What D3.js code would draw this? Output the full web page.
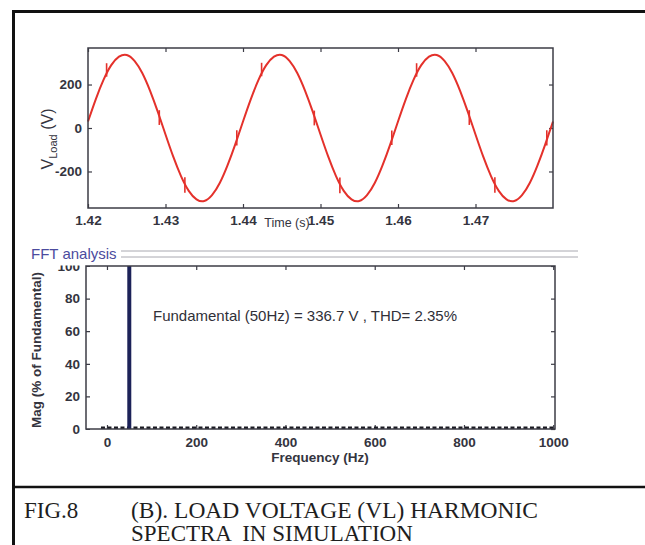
<!DOCTYPE html>
<html>
<head>
<meta charset="utf-8">
<script src="https://cdn.jsdelivr.net/npm/d3@7"></script>
<style>
  body { margin: 0; background: #fff; }
  text { font-family: Arial, "Liberation Sans", sans-serif; }
</style>
</head>
<body>
<svg id="fig" width="645" height="545"></svg>
<script>
// ---- data ----
const timeTicks = [1.42, 1.43, 1.44, 1.45, 1.46, 1.47]
const voltTicks = [-200, 0, 200]
const freqTicks = [0, 200, 400, 600, 800, 1000]
const magTicks = [0, 20, 40, 60, 80, 100]

// load voltage, one reading per millisecond
const sampleTime = [
  1.420, 1.421, 1.422, 1.423, 1.424, 1.425, 1.426, 1.427, 1.428, 1.429,
  1.430, 1.431, 1.432, 1.433, 1.434, 1.435, 1.436, 1.437, 1.438, 1.439,
  1.440, 1.441, 1.442, 1.443, 1.444, 1.445, 1.446, 1.447, 1.448, 1.449,
  1.450, 1.451, 1.452, 1.453, 1.454, 1.455, 1.456, 1.457, 1.458, 1.459,
  1.460, 1.461, 1.462, 1.463, 1.464, 1.465, 1.466, 1.467, 1.468, 1.469,
  1.470, 1.471, 1.472, 1.473, 1.474, 1.475, 1.476, 1.477, 1.478, 1.479, 1.480]
const sampleVolt = [
  30, 132, 221, 289, 328, 336, 309, 253, 172, 75,
  -30, -132, -221, -289, -328, -336, -309, -253, -172, -75,
  30, 132, 221, 289, 328, 336, 309, 253, 172, 75,
  -30, -132, -221, -289, -328, -336, -309, -253, -172, -75,
  30, 132, 221, 289, 328, 336, 309, 253, 172, 75,
  -30, -132, -221, -289, -328, -336, -309, -253, -172, -75, 30]

// switching spikes: [time, low, high]
const spikes = [
  [1.4224, 236, 298], [1.4292, 14, 82], [1.4325, -298, -226], [1.4392, -80, -10],
  [1.4424, 238, 300], [1.4492, 12, 80], [1.4525, -300, -228], [1.4592, -78, -12],
  [1.4624, 236, 298], [1.4692, 14, 82], [1.4725, -298, -226], [1.4792, -80, -10]]

// FFT spectrum
const fundamentalHz = [50]
const fundamentalMag = [100]
const harmonicSpan = [0, 1000]   // tiny harmonics lying along the floor
const harmonicMag = 0.8

const figLabel = "FIG.8"
const caption1 = "(B). LOAD VOLTAGE (VL) HARMONIC"
const caption2 = "SPECTRA  IN SIMULATION"
const fftText = "Fundamental (50Hz) = 336.7 V , THD= 2.35%"

// ---- drawing ----
var svg = d3.select("#fig")
svg.append("rect").attr("width", 645).attr("height", 545).attr("fill", "#fff")

var axisColour = "#3c3c46"
var labelColour = "#34343e"
var wave = "#e4312b"
var plain = function(d) { return String(d) }

function styleAxis(g) {
  g.select(".domain").remove()
  g.selectAll(".tick line").attr("stroke", axisColour).attr("stroke-width", 1.2)
  g.selectAll(".tick text")
    .attr("fill", labelColour)
    .style("font-size", "13.5px")
    .style("font-weight", "bold")
}

// top plot: voltage vs time
var x1 = d3.scaleLinear().domain([1.42, 1.48]).range([88, 553])
var y1 = d3.scaleLinear().domain([-368, 368]).range([208, 48])

var timePlot = svg.append("g")

var tf = d3.format(".2f")
timePlot.append("g").attr("transform", "translate(0,208)")
  .call(d3.axisBottom(x1).tickValues(timeTicks).tickFormat(tf).tickSizeInner(-4).tickSizeOuter(0).tickPadding(7))
  .call(styleAxis)
timePlot.append("g").attr("transform", "translate(0,48)")
  .call(d3.axisTop(x1).tickValues(timeTicks).tickFormat("").tickSizeInner(-4).tickSizeOuter(0))
  .call(styleAxis)
timePlot.append("g").attr("transform", "translate(88,0)")
  .call(d3.axisLeft(y1).tickValues(voltTicks).tickFormat(plain).tickSizeInner(-4).tickSizeOuter(0).tickPadding(6))
  .call(styleAxis)
timePlot.append("g").attr("transform", "translate(553,0)")
  .call(d3.axisRight(y1).tickValues(voltTicks).tickFormat("").tickSizeInner(-4).tickSizeOuter(0))
  .call(styleAxis)

var samples = sampleTime.map(function(t, i) { return { t: t, v: sampleVolt[i] } })
var line = d3.line()
  .x(function(d) { return x1(d.t) })
  .y(function(d) { return y1(d.v) })
  .curve(d3.curveNatural)

timePlot.append("path").datum(samples)
  .attr("fill", "none").attr("stroke", wave).attr("stroke-width", 2)
  .attr("d", line)

timePlot.selectAll(".spike").data(spikes).enter().append("line")
  .attr("class", "spike")
  .attr("x1", function(d) { return x1(d[0]) })
  .attr("x2", function(d) { return x1(d[0]) })
  .attr("y1", function(d) { return y1(d[1]) })
  .attr("y2", function(d) { return y1(d[2]) })
  .attr("stroke", wave).attr("stroke-width", 1.6)

timePlot.append("rect")
  .attr("x", 88).attr("y", 48).attr("width", 553 - 88).attr("height", 208 - 48)
  .attr("fill", "none").attr("stroke", axisColour).attr("stroke-width", 1.5)

// y label with subscript
var vl = timePlot.append("text")
  .attr("transform", "translate(53,139) rotate(-90)")
  .attr("text-anchor", "middle")
  .attr("fill", labelColour)
  .style("font-size", "16px")
vl.append("tspan").text("V")
vl.append("tspan").attr("dy", 4).style("font-size", "11px").text("Load")
vl.append("tspan").attr("dy", -4).text(" (V)")

timePlot.append("text")
  .attr("x", 287).attr("y", 227)
  .attr("text-anchor", "middle")
  .attr("fill", labelColour)
  .style("font-size", "12.5px")
  .text("Time (s)")

// FFT panel title
svg.append("line").attr("x1", 121).attr("x2", 578).attr("y1", 251).attr("y2", 251)
  .attr("stroke", "#a8a8b0").attr("stroke-width", 1)
svg.append("line").attr("x1", 121).attr("x2", 578).attr("y1", 257).attr("y2", 257)
  .attr("stroke", "#a8a8b0").attr("stroke-width", 1)

// bottom plot: spectrum
var x2 = d3.scaleLinear().domain([-47, 1004]).range([86, 555])
var y2 = d3.scaleLinear().domain([0, 100]).range([429, 266])

var fftPlot = svg.append("g")

// the "100" label is half hidden under the panel title
fftPlot.append("defs").append("clipPath").attr("id", "labelclip")
  .append("rect").attr("x", -100).attr("y", 265.5).attr("width", 200).attr("height", 300)

fftPlot.append("g").attr("transform", "translate(0,429)")
  .call(d3.axisBottom(x2).tickValues(freqTicks).tickFormat(plain).tickSizeInner(-4).tickSizeOuter(0).tickPadding(8))
  .call(styleAxis)
fftPlot.append("g").attr("transform", "translate(0,266)")
  .call(d3.axisTop(x2).tickValues(freqTicks).tickFormat("").tickSizeInner(-4).tickSizeOuter(0))
  .call(styleAxis)
fftPlot.append("g").attr("transform", "translate(86,0)")
  .attr("clip-path", "url(#labelclip)")
  .call(d3.axisLeft(y2).tickValues(magTicks).tickFormat(plain).tickSizeInner(-4).tickSizeOuter(0).tickPadding(6))
  .call(styleAxis)
fftPlot.append("g").attr("transform", "translate(555,0)")
  .call(d3.axisRight(y2).tickValues(magTicks).tickFormat("").tickSizeInner(-4).tickSizeOuter(0))
  .call(styleAxis)

// harmonics along the floor
fftPlot.append("line")
  .attr("x1", x2(harmonicSpan[0]) - 6).attr("x2", x2(harmonicSpan[1]))
  .attr("y1", y2(harmonicMag)).attr("y2", y2(harmonicMag))
  .attr("stroke", "#1a1a22").attr("stroke-width", 2.5)
  .attr("stroke-dasharray", "4,2.5")

fftPlot.selectAll(".bar").data(fundamentalHz).enter().append("rect")
  .attr("class", "bar")
  .attr("x", function(d) { return x2(d) - 2 })
  .attr("width", 4)
  .attr("y", function(d, i) { return y2(fundamentalMag[i]) })
  .attr("height", function(d, i) { return y2(0) - y2(fundamentalMag[i]) })
  .attr("fill", "#1c2258")

fftPlot.append("rect")
  .attr("x", 86).attr("y", 266).attr("width", 555 - 86).attr("height", 429 - 266)
  .attr("fill", "none").attr("stroke", axisColour).attr("stroke-width", 1.5)

fftPlot.append("text")
  .attr("x", 153).attr("y", 321)
  .attr("fill", "#303038")
  .style("font-size", "15px")
  .text(fftText)

fftPlot.append("text")
  .attr("transform", "translate(41,350) rotate(-90)")
  .attr("text-anchor", "middle")
  .attr("fill", labelColour)
  .style("font-size", "13.5px").style("font-weight", "bold")
  .text("Mag (% of Fundamental)")

fftPlot.append("text")
  .attr("x", 320).attr("y", 462)
  .attr("text-anchor", "middle")
  .attr("fill", labelColour)
  .style("font-size", "13.5px").style("font-weight", "bold")
  .text("Frequency (Hz)")

svg.append("text")
  .attr("x", 31).attr("y", 259)
  .attr("fill", "#4b4b9e")
  .style("font-size", "15px")
  .text("FFT analysis")

// outer frame and caption
svg.append("line").attr("x1", 12).attr("x2", 645).attr("y1", 11.5).attr("y2", 11.5)
  .attr("stroke", "#111").attr("stroke-width", 3)
svg.append("line").attr("x1", 13.5).attr("x2", 13.5).attr("y1", 10).attr("y2", 545)
  .attr("stroke", "#111").attr("stroke-width", 3)
svg.append("line").attr("x1", 12).attr("x2", 645).attr("y1", 487).attr("y2", 487)
  .attr("stroke", "#111").attr("stroke-width", 2.5)

var serif = "'Liberation Serif', 'Times New Roman', serif"
svg.append("text")
  .attr("x", 24).attr("y", 518)
  .attr("fill", "#1e1e1e")
  .style("font-family", serif).style("font-size", "23px")
  .text(figLabel)
svg.append("text")
  .attr("x", 131).attr("y", 518)
  .attr("fill", "#1e1e1e")
  .style("font-family", serif).style("font-size", "23px")
  .attr("textLength", 407).attr("lengthAdjust", "spacingAndGlyphs")
  .text(caption1)
svg.append("text")
  .attr("x", 131).attr("y", 541)
  .attr("fill", "#1e1e1e")
  .style("font-family", serif).style("font-size", "23px")
  .style("white-space", "pre")
  .attr("xml:space", "preserve")
  .text(caption2)
</script>
</body>
</html>
